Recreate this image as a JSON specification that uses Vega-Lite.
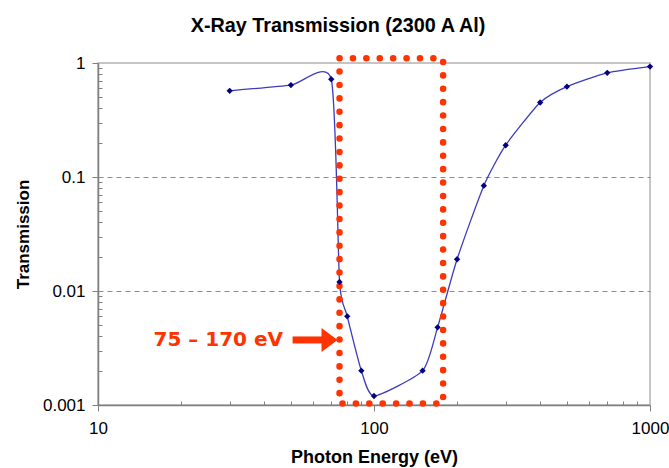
{
  "$schema": "https://vega.github.io/schema/vega-lite/v6.json",
  "width": 552,
  "height": 342,
  "autosize": {"type": "none"},
  "padding": {"left": 98, "top": 63, "right": 19, "bottom": 63},
  "background": "white",
  "config": {"view": {"stroke": "#b3b3b3", "strokeWidth": 1.5}, "font": "Liberation Sans"},
  "title": {"text": "X-Ray Transmission (2300 A Al)", "font": "Liberation Sans", "fontSize": 19.8, "fontWeight": "bold", "color": "#000000", "anchor": "middle", "dx": -36, "offset": 18},
  "datasets": {
    "curve": [
      {"energy": 30, "transmission": 0.57},
      {"energy": 50, "transmission": 0.64},
      {"energy": 70, "transmission": 0.72},
      {"energy": 75, "transmission": 0.012},
      {"energy": 80, "transmission": 0.006},
      {"energy": 90, "transmission": 0.002},
      {"energy": 100, "transmission": 0.0012},
      {"energy": 150, "transmission": 0.002},
      {"energy": 170, "transmission": 0.0048},
      {"energy": 200, "transmission": 0.019},
      {"energy": 250, "transmission": 0.084},
      {"energy": 300, "transmission": 0.19},
      {"energy": 400, "transmission": 0.45},
      {"energy": 500, "transmission": 0.62},
      {"energy": 700, "transmission": 0.82},
      {"energy": 1000, "transmission": 0.93}
    ]
  },
  "layer": [
    {
      "data": {"name": "curve"},
      "mark": {"type": "line", "interpolate": "cardinal", "tension": 0.4, "color": "#3c3cbc", "strokeWidth": 1.3},
      "encoding": {
        "x": {
          "field": "energy", "type": "quantitative",
          "scale": {"type": "log", "domain": [10, 1000], "nice": false},
          "axis": {"values": [10, 100, 1000], "format": "~g", "title": "Photon Energy (eV)", "grid": false,
            "domainColor": "#808080", "domainWidth": 1.5, "tickColor": "#808080", "tickSize": 6, "tickWidth": 1,
            "labelFont": "Liberation Sans", "labelFontSize": 17, "labelColor": "#000000", "labelPadding": 9, "labelFlush": false,
            "titleFont": "Liberation Sans", "titleFontSize": 18, "titleFontWeight": "bold", "titleColor": "#000000", "titlePadding": 12}
        },
        "y": {
          "field": "transmission", "type": "quantitative",
          "scale": {"type": "log", "domain": [0.001, 1], "nice": false},
          "axis": {"values": [0.001, 0.01, 0.1, 1], "format": "~g", "title": "Transmission",
            "grid": true, "gridDash": [5, 4], "gridColor": "#8c8c8c", "gridWidth": 1,
            "gridOpacity": {"condition": {"test": "datum.value >= 0.5 || datum.value <= 0.002", "value": 0}, "value": 1},
            "domainColor": "#808080", "domainWidth": 1.5, "tickColor": "#808080", "tickSize": 6, "tickWidth": 1,
            "labelFont": "Liberation Sans", "labelFontSize": 17, "labelColor": "#000000", "labelPadding": 7,
            "titleFont": "Liberation Sans", "titleFontSize": 17, "titleFontWeight": "bold", "titleColor": "#000000", "titlePadding": 10}
        }
      }
    },
    {
      "data": {"values": [{"x1": 75, "x2": 178, "y1": 0.00103, "y2": 1.1}]},
      "mark": {"type": "rect", "fill": "transparent", "stroke": "#ff3300", "strokeWidth": 6.5, "strokeDash": [0.1, 13.3], "strokeCap": "round"},
      "encoding": {
        "x": {"field": "x1", "type": "quantitative", "axis": null},
        "x2": {"field": "x2"},
        "y": {"field": "y1", "type": "quantitative", "axis": null},
        "y2": {"field": "y2"}
      }
    },
    {
      "data": {"name": "curve"},
      "mark": {"type": "point", "shape": "diamond", "filled": true, "color": "#000080", "size": 40, "opacity": 1},
      "encoding": {
        "x": {"field": "energy", "type": "quantitative",
          "axis": {"orient": "bottom", "values": [20, 30, 40, 50, 60, 70, 80, 90, 200, 300, 400, 500, 600, 700, 800, 900],
            "labels": false, "domain": false, "grid": false, "tickSize": -4, "tickColor": "#808080", "title": null}},
        "y": {"field": "transmission", "type": "quantitative",
          "axis": {"orient": "left", "values": [0.002, 0.003, 0.004, 0.005, 0.006, 0.007, 0.008, 0.009, 0.02, 0.03, 0.04, 0.05, 0.06, 0.07, 0.08, 0.09, 0.2, 0.3, 0.4, 0.5, 0.6, 0.7, 0.8, 0.9],
            "labels": false, "domain": false, "grid": false, "tickSize": -4, "tickColor": "#808080", "title": null}}
      }
    },
    {
      "data": {"values": [{"x1": 50.7, "x2": 65, "y": 0.00372}]},
      "mark": {"type": "rule", "color": "#ff3300", "strokeWidth": 7},
      "encoding": {
        "x": {"field": "x1", "type": "quantitative", "axis": null},
        "x2": {"field": "x2"},
        "y": {"field": "y", "type": "quantitative", "axis": null}
      }
    },
    {
      "data": {"values": [{"x": 69, "y": 0.00372}]},
      "mark": {"type": "point", "shape": "M-0.667,-1L0.667,0L-0.667,1Z", "filled": true, "color": "#ff3300", "size": 576, "opacity": 1},
      "encoding": {
        "x": {"field": "x", "type": "quantitative", "axis": null},
        "y": {"field": "y", "type": "quantitative", "axis": null}
      }
    },
    {
      "data": {"values": [{"x": 46.8, "y": 0.00372, "label": "75 – 170 eV"}]},
      "mark": {"type": "text", "align": "right", "baseline": "middle", "font": "DejaVu Sans", "fontWeight": "bold", "fontSize": 20, "color": "#ff3300"},
      "encoding": {
        "x": {"field": "x", "type": "quantitative", "axis": null},
        "y": {"field": "y", "type": "quantitative", "axis": null},
        "text": {"field": "label"}
      }
    }
  ],
  "resolve": {"axis": {"x": "independent", "y": "independent"}}
}
